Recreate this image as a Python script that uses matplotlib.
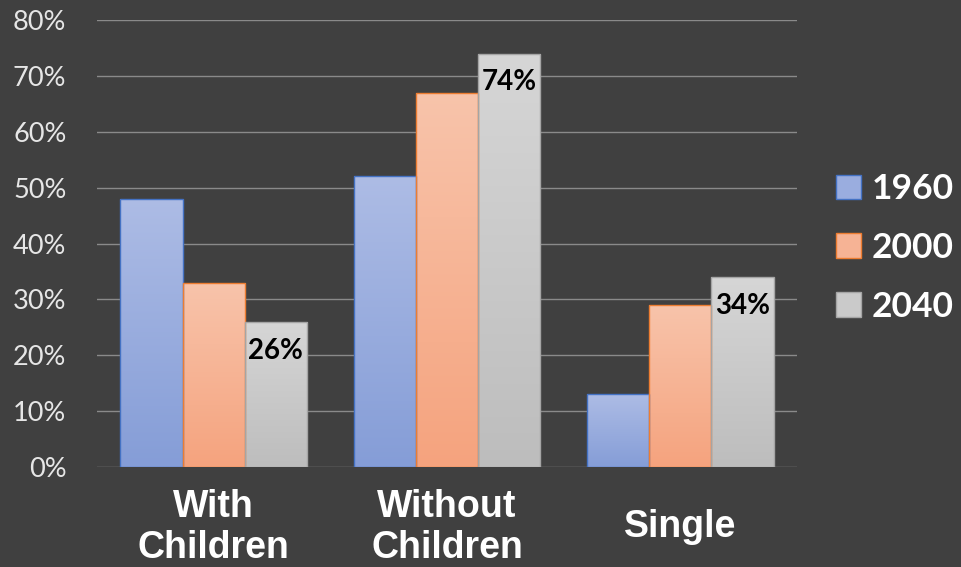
import matplotlib
matplotlib.use("Agg")
import matplotlib.pyplot as plt
import numpy as np
from matplotlib.colors import LinearSegmentedColormap
from matplotlib.patches import Patch

categories = ["With\nChildren", "Without\nChildren", "Single"]
years = ["1960", "2000", "2040"]
values_1960 = [48, 52, 13]
values_2000 = [33, 67, 29]
values_2040 = [26, 74, 34]

BG = "#404040"
top_colors = ["#adbce5", "#f8c4ab", "#d6d6d6"]
bottom_colors = ["#859dd7", "#f5a37e", "#bdbdbd"]
edge_colors = ["#4472c4", "#ed7d31", "#a5a5a5"]
mid_colors = ["#9aaddf", "#f6b395", "#cacaca"]

plt.rcParams["font.family"] = ["Lato", "DejaVu Sans"]

fig = plt.figure(figsize=(9.61, 5.67), dpi=100, facecolor=BG)
ax = fig.add_axes([97 / 961, 1 - 467 / 567, 700 / 961, 447 / 567])
ax.set_facecolor(BG)

x = np.arange(len(categories))
width = 0.8 / 3
series = [values_1960, values_2000, values_2040]
grad = np.linspace(1, 0, 256).reshape(-1, 1)

for i, vals in enumerate(series):
    offs = (i - 1) * width
    bars = ax.bar(x + offs, vals, width, color="none", edgecolor=edge_colors[i],
                  linewidth=1.0, zorder=3)
    cmap = LinearSegmentedColormap.from_list(f"g{i}", [bottom_colors[i], top_colors[i]])
    for b in bars:
        x0, y0 = b.get_x(), b.get_y()
        im = ax.imshow(grad, cmap=cmap, aspect="auto", vmin=0, vmax=1,
                       extent=[x0, x0 + b.get_width(), y0, y0 + b.get_height()],
                       zorder=2.5, interpolation="bilinear")
        im.set_clip_path(b)

for xi, v in zip(x + width, values_2040):
    ax.annotate(f"{v}%", (xi, v), xytext=(0, -11.5), textcoords="offset points",
                ha="center", va="top", fontsize=20, fontweight="bold", color="black",
                zorder=5)

ax.set_xlim(-0.5, 2.5)
ax.set_ylim(0, 80)
ax.set_yticks(np.arange(0, 81, 10))
ax.set_yticklabels([f"{t}%" for t in range(0, 81, 10)])
ax.yaxis.grid(True, color="#8a8a8a", linewidth=1.0, zorder=0)
ax.set_axisbelow(True)
for s in ax.spines.values():
    s.set_visible(False)
ax.tick_params(axis="y", length=0, pad=22, labelsize=19.5, labelcolor="#e6e6e6")

ax.set_xticks(x)
ax.set_xticklabels(categories, fontsize=27, fontweight="bold", color="white",
                   family=["Liberation Sans", "DejaVu Sans"], va="center",
                   linespacing=1.17)
ax.tick_params(axis="x", length=0, pad=43.5)

handles = [Patch(facecolor=mid_colors[i], edgecolor=edge_colors[i], label=years[i])
           for i in range(3)]
leg = fig.legend(handles=handles, loc="center left", bbox_to_anchor=(836 / 961, 1 - 248 / 567),
                 frameon=False, labelcolor="white", handlelength=0.7, handleheight=0.7,
                 handletextpad=0.3, labelspacing=0.75, borderpad=0, borderaxespad=0,
                 prop={"family": ["Lato", "DejaVu Sans"], "weight": "bold", "size": 25.5})

fig.savefig("out.png", dpi=100, facecolor=BG)
